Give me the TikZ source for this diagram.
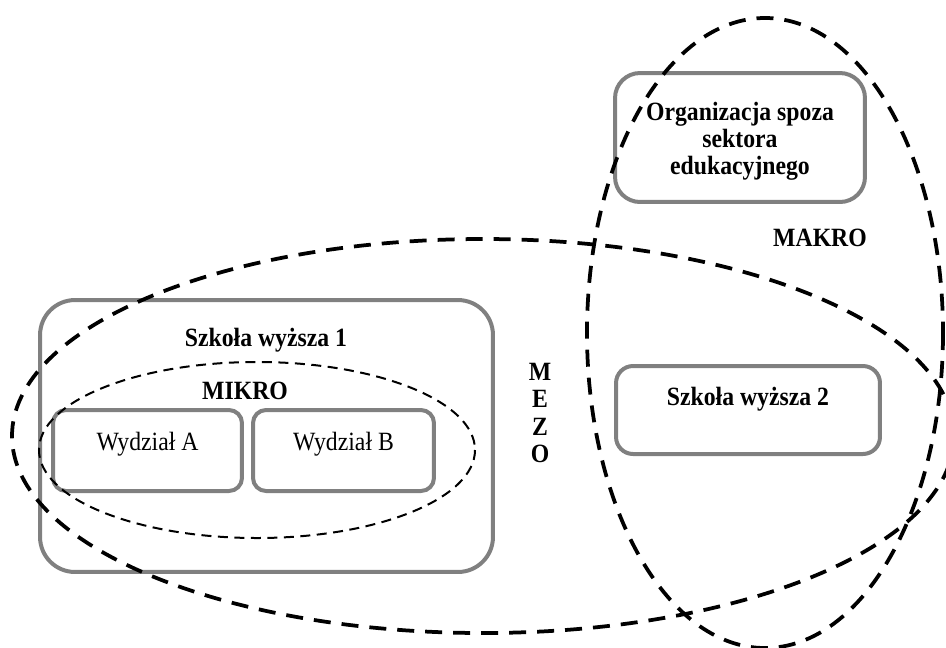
\documentclass[tikz,border=0pt]{standalone}
\usepackage{fontspec}
\setmainfont{Liberation Serif}[FakeStretch=0.9]
\definecolor{boxgray}{RGB}{128,128,128}
\begin{document}
\begin{tikzpicture}[x=0.02cm,y=-0.02cm]
            \tikzset{
                every node/.style={font=\fontsize{15}{15.5}\selectfont},
                box/.style={draw=boxgray,line width=0.08cm,rounded corners=#1,inner sep=0pt},
                title/.style={font=\fontsize{15}{15.5}\selectfont\bfseries},
                bigdash/.style={line width=0.075cm,dash pattern=on 0.34cm off 0.22cm},
                smalldash/.style={line width=0.04cm,dash pattern=on 0.2cm off 0.13cm},}
            \clip (0,0) rectangle (946,647);
            % szkola wyzsza 1 with its two faculties
            \node[box=0.7cm,minimum width=9.06cm,minimum height=5.44cm] (sw1) at (266.5,436) {};
            \node[title] (sw1t) at (266,340) {Szkoła wyższa 1};
            \node[title] (mikro) at (245,391) {MIKRO};
            \node[box=0.26cm,minimum width=3.78cm,minimum height=1.62cm] (wa) at (147.5,450.5) {};
            \node[box=0.26cm,minimum width=3.62cm,minimum height=1.62cm] (wb) at (343.5,450.5) {};
            \node (wat) at (147.5,444) {Wydział A};
            \node (wbt) at (343.5,444) {Wydział B};
            % right side
            \node[box=0.5cm,minimum width=5cm,minimum height=2.58cm] (org) at (740,137.5) {};
            \node[title,align=center] (orgt) at (740,141) {Organizacja spoza\\sektora\\edukacyjnego};
            \node[box=0.34cm,minimum width=5.28cm,minimum height=1.76cm] (sw2) at (748,410) {};
            \node[title] (sw2t) at (748,399) {Szkoła wyższa 2};
            \node[title] (makro) at (820,238) {MAKRO};
            \node[title,align=center] (mezo) at (540,413) {M\\E\\Z\\O};
            % levels
            \draw [smalldash] (257,450) ellipse [x radius=218, y radius=88];
            \draw [bigdash] (483,436) ellipse [x radius=471, y radius=197];
            \draw [bigdash] (765,333) ellipse [x radius=178, y radius=315];
        \end{tikzpicture}
\end{document}
